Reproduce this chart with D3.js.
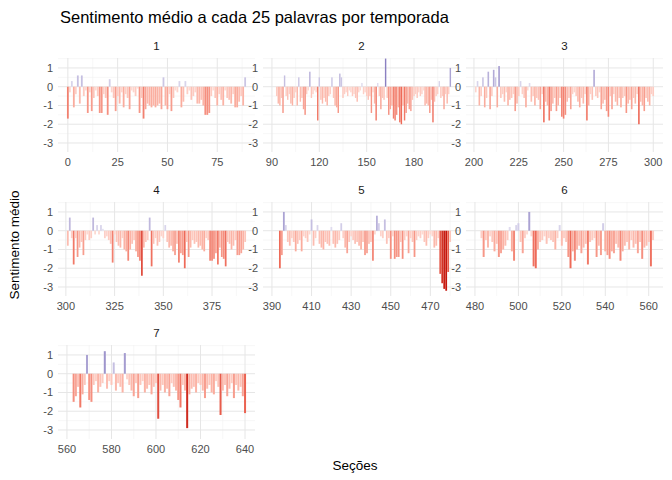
<!DOCTYPE html>
<html><head><meta charset="utf-8">
<script src="https://cdn.jsdelivr.net/npm/d3@7"></script>
<style>body{margin:0;background:#fff;font-family:"Liberation Sans",Arial,sans-serif}</style>
</head><body><svg id="c" width="672" height="480"></svg>
<script>
// section where each season starts, and mean sentiment per 25-word section
const seasonStarts = [0, 93, 201, 301, 394, 483, 563];
const s1 = [-1.7,-0.3,0.3,-1.1,-0.4,0.6,-0.9,0.6,-0.5,-0.2,-1.4,-0.3,-1.3,-0.6,-0.2,-0.5,-1.4,-1.4,-0.4,-0.6,-1.5,0.4,-0.3,-0.6,-1.3,-0.5,-0.9,-0.3,-1.1,-0.4,-0.6,-1.2,-0.2,-0.3,-0.5,-0.1,-1.4,-0.6,-1.7,-1.2,-0.9,-1.0,-1.1,-1.0,-1.1,-1.0,-0.9,-1.2,0.5,-1.0,-1.2,-0.4,-1.3,-0.6,-0.2,-0.3,0.3,-1.1,-0.8,0.3,-0.4,-0.2,-0.7,-0.5,-0.3,-0.9,-0.9,-0.7,-1.0,-1.5,-1.5,-1.4,-0.5,-0.2,-0.6,-1.0,-0.4,-0.7,-1.0,-0.2,-0.6,-0.7,-0.9,-0.4,-1.1,-1.1,-0.8,-0.5,-1.0,0.5];
const s2 = [-0.5,-0.9,-1.0,-0.6,-1.4,0.6,-0.5,-0.7,-0.4,-0.9,-1.0,-0.6,-0.3,-1.0,0.5,-0.8,-0.6,-1.2,-1.5,-0.4,-0.2,0.8,-0.6,-0.4,-0.2,-0.3,-1.8,0.5,-0.7,-0.9,-0.6,-0.8,-1.0,-0.5,-0.4,0.5,-0.6,-1.0,-1.1,-1.4,0.7,0.5,-0.6,-0.4,-0.3,-0.5,-0.2,-0.3,-0.5,-0.4,-0.6,-0.8,-0.3,-0.2,0.2,-0.4,-0.3,-0.5,-0.7,-0.5,-1.4,-0.3,-0.9,-1.8,0.2,-0.5,-1.2,-0.6,-0.7,1.5,-0.6,-1.5,-1.2,-1.0,-1.7,-1.8,-1.5,-1.1,-1.9,-2.0,-1.0,-1.8,-1.4,-0.9,-1.2,-1.3,-0.7,-0.5,-0.4,-0.6,-0.3,-0.5,-0.4,-0.2,-1.0,-0.9,-1.0,-1.4,-0.7,-1.9,-0.8,-0.5,-0.4,0.3,-0.6,-0.5,-1.2,-0.4,-0.9,-0.4,1.0];
const s3 = [-0.3,0.3,-1.0,-0.5,0.5,-1.1,-0.6,0.8,-1.2,-0.5,0.9,0.5,-1.1,1.1,-0.6,-0.4,-0.8,-0.3,-1.0,-0.7,-0.6,-0.4,-1.3,-0.9,-0.5,0.3,-0.4,-0.6,-1.1,-0.2,0.2,-0.8,-0.5,-1.0,-0.6,-0.7,-1.2,-0.4,-1.9,-0.8,-1.0,-1.8,-1.3,-0.9,-0.6,-1.3,-1.0,-0.6,-1.6,-1.7,-1.5,-0.8,-0.6,-1.2,-0.4,-0.3,-0.5,-0.8,-1.1,-0.6,-0.9,-0.4,-1.8,-1.0,-0.4,-0.7,0.9,-0.5,-0.6,-0.3,-1.2,-0.9,-0.7,-1.3,-1.6,-0.5,-1.2,-0.4,-0.8,-1.0,-0.6,-1.1,-0.6,-0.5,-1.4,-0.9,-0.7,-1.2,-0.6,-0.9,-0.4,-2.0,-0.8,-1.0,-1.3,-0.6,-0.8,-1.0,-0.4,-0.5];
const s4 = [-0.8,0.7,-0.4,-1.8,-0.4,-1.4,-0.9,-0.6,-1.3,-0.5,-0.2,-0.5,-0.4,0.7,-0.2,0.3,-0.2,0.3,0.1,-0.4,-0.3,-0.5,-0.7,-1.7,-0.2,-0.6,-0.8,-0.9,-0.4,-1.0,-1.1,-1.6,-1.0,-0.7,-0.5,-1.1,-1.4,-1.6,-2.4,-0.9,-0.6,-0.5,0.7,-1.9,-0.7,-0.4,-0.8,-0.6,-0.3,-0.4,0.3,-0.6,-0.9,-0.8,-1.1,-1.3,-0.7,-1.7,-1.2,-1.3,-2.0,-0.6,-1.4,-0.9,-0.5,-0.7,-0.6,-0.9,-0.8,-1.0,-1.1,-0.4,-0.5,-1.6,-1.6,-1.5,-1.2,-1.8,-0.9,-1.4,-1.5,-1.9,-0.6,-0.7,-1.0,-0.8,-0.5,-1.3,-1.3,-1.2,-1.0,-0.6];
const s5 = [-2.0,-1.3,1.0,0.3,-0.6,-0.8,-0.4,-0.6,-1.1,-0.7,-0.5,-1.1,-0.3,-0.4,-0.6,-0.2,0.6,-0.8,-0.4,0.3,-0.7,-0.9,-1.0,-0.6,-0.7,-0.8,0.2,-0.7,-0.9,-0.7,-0.5,0.4,-0.4,-0.9,-1.2,-0.6,-0.3,-0.5,-0.7,-0.6,-0.8,-1.0,-0.6,-1.3,-1.2,-0.7,-0.6,-1.6,-0.2,0.8,0.4,-0.3,-0.4,0.6,-0.7,-0.4,-1.5,-0.3,-1.5,-1.4,-1.4,-0.6,-1.5,-0.5,-0.3,-1.2,-0.4,-0.6,-1.4,-0.5,-0.3,-0.4,-0.2,-0.6,-0.8,-0.4,-0.2,-0.3,-0.9,-0.8,-0.4,-2.3,-2.8,-3.1,-3.2,-2.2,-0.6];
const s6 = [-0.4,-1.4,-0.5,-0.9,-0.3,-0.6,-1.1,-0.7,-1.4,-1.2,-1.0,-0.8,-0.5,0.2,-1.1,-1.6,0.3,0.4,-0.6,-1.2,-0.4,-0.2,1.0,-0.3,-1.9,-2.0,-1.0,-0.6,-0.5,-0.3,-0.7,-0.4,-0.5,-0.6,-1.0,-0.4,0.3,-0.8,-0.4,-0.6,-1.4,-2.0,-1.1,-1.6,-1.0,-0.8,-1.2,-0.9,-0.7,-1.8,-0.6,-0.5,-0.4,-1.4,-0.8,-1.3,0.4,-1.1,-1.3,-1.5,-1.1,-1.2,-0.7,-0.9,-1.6,-1.1,-0.8,-0.6,-1.0,-0.5,-0.9,-0.7,-1.2,-0.6,-1.5,-0.9,-0.8,-0.6,-1.9,-0.5];
const s7 = [-1.5,-1.2,-0.7,-1.8,-1.1,-0.6,1.0,-1.4,-1.5,-0.6,-0.4,-1.0,-0.7,-0.5,1.2,-0.8,-0.4,-0.6,0.6,-0.9,-0.5,-0.7,-1.0,1.1,-0.3,-0.6,-0.9,-1.2,-0.5,-1.3,-0.6,-0.4,-1.0,-0.8,-0.6,-1.1,-0.7,-0.5,-2.4,-0.9,-0.6,-1.0,-0.8,-1.2,-0.5,-0.7,-0.9,-1.4,-1.8,-0.6,-0.9,-2.9,-1.1,-0.8,-0.7,-1.0,-0.5,-0.6,-0.9,-1.3,-0.8,-0.6,-1.0,-1.1,-0.4,-0.7,-2.2,-0.9,-0.6,-1.2,-0.8,-0.5,-1.3,-0.6,-0.9,-0.7,-1.2,-2.1];
const seasons = [s1, s2, s3, s4, s5, s6, s7];
const xTicks = [[0,25,50,75],[90,120,150,180],[200,225,250,275,300],[300,325,350,375],
  [390,410,430,450,470],[480,500,520,540,560],[560,580,600,620,640]];
const xMins = [null, 90, null, null, 390, 480, 560];
const yTicks = [1, 0, -1, -2, -3];

const svg = d3.select('#c');
const colX = [58, 263, 466], rowY = [58, 202, 345];
const pw = 197, ph = 94;

const fill = d3.scaleLinear()
  .domain([-3.2, -2, -1, 0, 0.01, 1.5])
  .range(['#c4160c', '#ee6a58', '#fbb3a5', '#fee2dc', '#ebe8f5', '#8b80c2'])
  .clamp(true);

const y = d3.scaleLinear().domain([-3.48, 1.53]).range([ph, 0]);

seasons.forEach((vals, i) => {
  const start = seasonStarts[i];
  const data = vals.map((v, k) => ({ x: start + k, v }));
  let lo = start - 0.45, hi = start + vals.length - 1 + 0.45;
  if (xMins[i] !== null) lo = Math.min(lo, xMins[i]);
  const pad = (hi - lo) * 0.05;
  const x = d3.scaleLinear().domain([lo - pad, hi + pad]).range([0, pw]);
  const g = svg.append('g')
    .attr('transform', `translate(${colX[i % 3]},${rowY[Math.floor(i / 3)]})`);

  // minor grid
  const xt = xTicks[i], step = xt[1] - xt[0];
  const minors = d3.range(xt[0] - step / 2, hi + pad, step).filter(m => x(m) >= 0 && x(m) <= pw);
  g.selectAll('.mx').data(minors).join('line')
    .attr('x1', d => x(d)).attr('x2', d => x(d)).attr('y1', 0).attr('y2', ph)
    .attr('stroke', '#f2f2f2').attr('stroke-width', 0.6);
  g.selectAll('.my').data([1.5, 0.5, -0.5, -1.5, -2.5]).join('line')
    .attr('x1', 0).attr('x2', pw).attr('y1', d => y(d)).attr('y2', d => y(d))
    .attr('stroke', '#f2f2f2').attr('stroke-width', 0.6);
  // major grid
  g.selectAll('.gx').data(xt).join('line')
    .attr('x1', d => x(d)).attr('x2', d => x(d)).attr('y1', 0).attr('y2', ph)
    .attr('stroke', '#e6e6e6').attr('stroke-width', 1);
  g.selectAll('.gy').data(yTicks).join('line')
    .attr('x1', 0).attr('x2', pw).attr('y1', d => y(d)).attr('y2', d => y(d))
    .attr('stroke', '#e6e6e6').attr('stroke-width', 1);

  const bw = Math.max(1, x(start + 0.9) - x(start));
  g.selectAll('rect').data(data).join('rect')
    .attr('x', d => x(d.x) - bw / 2)
    .attr('width', bw)
    .attr('y', d => y(Math.max(0, d.v)))
    .attr('height', d => Math.abs(y(d.v) - y(0)))
    .attr('fill', d => fill(d.v));

  g.selectAll('.xl').data(xt).join('text')
    .attr('x', d => x(d)).attr('y', ph + 14).attr('text-anchor', 'middle')
    .attr('font-size', 11).attr('fill', '#4d4d4d').text(d => d);
  g.selectAll('.yl').data(yTicks).join('text')
    .attr('x', -5).attr('y', d => y(d) + 4).attr('text-anchor', 'end')
    .attr('font-size', 11).attr('fill', '#4d4d4d').text(d => d);
  g.append('text').attr('x', pw / 2).attr('y', -8).attr('text-anchor', 'middle')
    .attr('font-size', 11.5).attr('fill', '#1a1a1a').text(i + 1);
});

svg.append('text').attr('x', 60).attr('y', 23).attr('font-size', 16.5)
  .attr('fill', '#000').text('Sentimento médio a cada 25 palavras por temporada');
svg.append('text').attr('x', 355).attr('y', 470).attr('text-anchor', 'middle')
  .attr('font-size', 13.5).text('Seções');
svg.append('text').attr('transform', 'translate(19,245) rotate(-90)')
  .attr('text-anchor', 'middle').attr('font-size', 13.5).text('Sentimento médio');
</script></body></html>
